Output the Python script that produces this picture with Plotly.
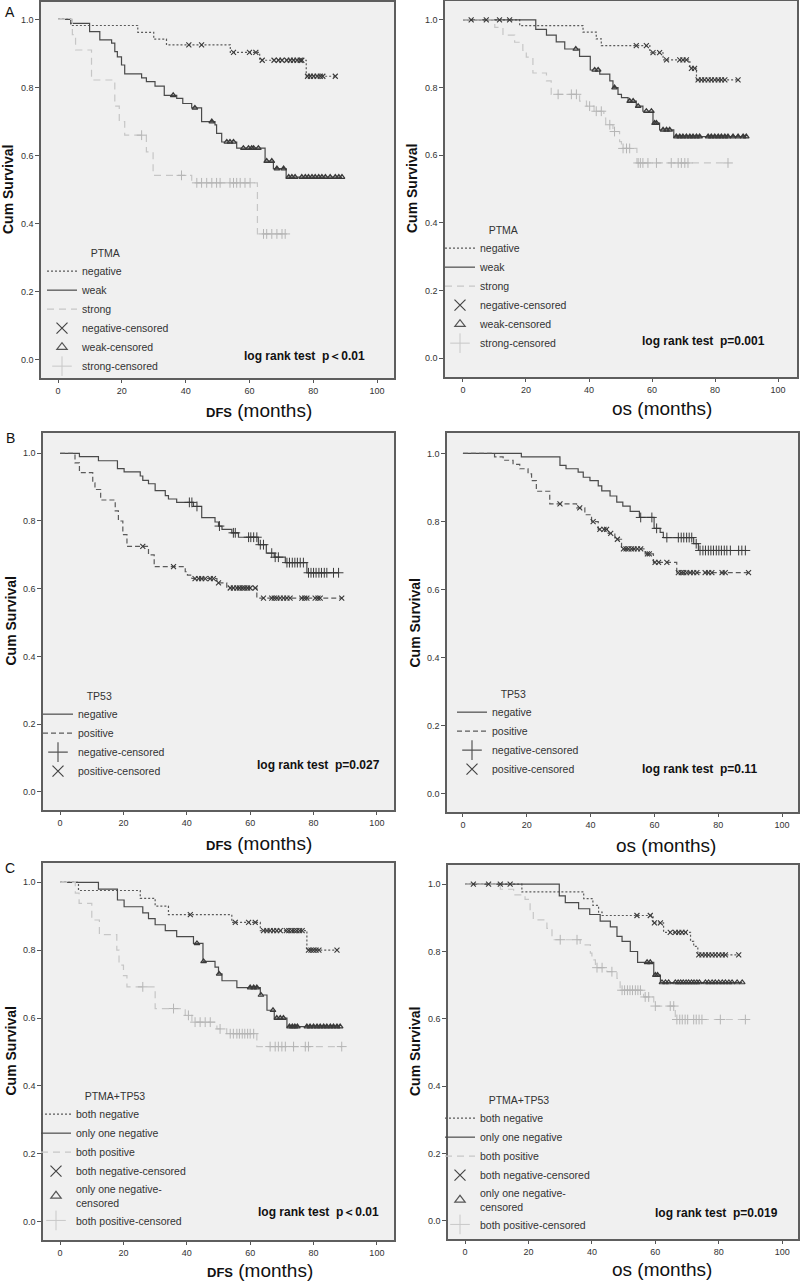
import plotly.graph_objects as go

FONT = "Liberation Sans, Arial, Helvetica, sans-serif"

# ---------------- data (months, cumulative survival) ----------------
# Panel A - PTMA, DFS
A_dfs_neg_t = [4.0, 25.0, 30.0, 34.0, 54.0, 63.2, 77.8]
A_dfs_neg_s = [0.982, 0.962, 0.942, 0.925, 0.903, 0.88, 0.833]
A_dfs_neg_c = [(0.925, [41, 45]), (0.903, [55, 60, 62]),
               (0.88, [64, 67.7, 69.1, 70.2, 71.7, 72.8, 73.8, 74.9, 75.9, 76.4]),
               (0.833, [78.2, 79.1, 80.1, 81.2, 82.2, 83.0, 86.9])]
A_dfs_weak_t = [4.0, 9.9, 13.1, 16.8, 17.8, 18.6, 19.9, 20.9, 26.2, 27.7, 30.4, 33.3, 37.2,
                39.1, 41.9, 45.0, 49.2, 49.7, 51.3, 56.0, 64.9, 67.5, 71.5]
A_dfs_weak_s = [0.988, 0.964, 0.94, 0.93, 0.905, 0.89, 0.866, 0.84, 0.828, 0.817, 0.804, 0.777,
                0.768, 0.753, 0.74, 0.70, 0.69, 0.665, 0.64, 0.622, 0.584, 0.562, 0.537]
A_dfs_weak_c = [(0.777, [36.1]), (0.74, [42.9]), (0.70, [48.2]), (0.64, [52.9, 53.9, 55.0]),
                (0.622, [58.1, 59.7, 60.7, 61.3, 62.8]), (0.584, [65.4, 67.0]), (0.562, [68.6, 70.7]),
                (0.537, [72.3, 73.3, 74.3, 76.4, 77.5, 78.5, 79.6, 80.6, 81.7, 82.7, 83.8, 85.3,
                         86.9, 88.0, 89.0])]
A_dfs_str_t = [4.5, 5.5, 10.5, 17.8, 19.2, 20.9, 27.7, 29.8, 41.9, 62.5]
A_dfs_str_s = [0.955, 0.91, 0.822, 0.745, 0.70, 0.66, 0.611, 0.542, 0.52, 0.37]
A_dfs_str_c = [(0.66, [26.2]), (0.542, [38.7]),
               (0.52, [43.5, 45.0, 46.6, 48.2, 49.7, 50.8, 53.9, 55.0, 56.0, 57.1, 58.6, 60.2]),
               (0.37, [64.4, 65.4, 67.0, 68.6, 70.2, 71.2])]

# Panel A - PTMA, OS
A_os_neg_t = [18.0, 38.1, 42.3, 43.9, 59.3, 63.5, 72.0, 74.1]
A_os_neg_s = [0.983, 0.964, 0.944, 0.924, 0.903, 0.882, 0.857, 0.823]
A_os_neg_c = [(1.0, [2.6, 7.4, 11.6, 14.8]), (0.924, [55.0, 58.2]), (0.903, [60.3, 62.4]),
              (0.882, [64.6, 68.8, 69.8, 70.9]), (0.857, [72.5, 73.5]),
              (0.823, [74.6, 75.7, 76.7, 77.8, 78.8, 79.9, 81.0, 82.0, 83.1, 87.3])]
A_os_weak_t = [23.1, 26.5, 29.6, 32.3, 37.0, 40.4, 43.4, 46.6, 47.6, 49.2, 50.3, 52.4, 55.0,
               57.1, 60.3, 62.4, 66.9]
A_os_weak_s = [0.972, 0.955, 0.935, 0.914, 0.892, 0.852, 0.84, 0.82, 0.80, 0.78, 0.77, 0.76,
               0.745, 0.73, 0.695, 0.675, 0.655]
A_os_weak_c = [(0.914, [35.8]), (0.852, [41.8, 42.9]), (0.80, [48.1]), (0.76, [52.9, 54.0]),
               (0.745, [55.6]), (0.73, [58.2, 59.8]), (0.695, [60.8, 61.4]),
               (0.675, [63.5, 64.6, 65.6]),
               (0.655, [67.7, 68.8, 69.8, 70.9, 72.0, 73.0, 74.1, 75.1, 77.8, 78.8, 79.9, 81.0,
                        82.0, 83.1, 84.1, 85.7, 87.3, 88.9, 89.9])]
A_os_str_t = [10.1, 12.7, 16.4, 19.0, 20.1, 22.2, 26.5, 28.0, 37.0, 39.2, 41.6, 44.7, 45.3,
              47.6, 49.7, 50.3, 55.2]
A_os_str_s = [0.978, 0.955, 0.934, 0.91, 0.89, 0.843, 0.82, 0.78, 0.76, 0.745, 0.73, 0.71,
              0.69, 0.67, 0.64, 0.62, 0.577]
A_os_str_c = [(0.78, [30.2, 34.4, 36.0]), (0.745, [40.2]), (0.73, [42.3, 43.9]), (0.69, [46.6]),
              (0.67, [48.1]), (0.62, [50.8, 51.9, 52.9]),
              (0.577, [55.6, 56.3, 57.1, 58.7, 61.4, 66.1, 68.3, 69.3, 70.4, 71.4, 84.1])]

# Panel B - TP53, DFS
B_dfs_neg_t = [6.1, 12.1, 18.1, 20.2, 25.3, 26.1, 27.9, 30.0, 33.2, 34.2, 36.8, 42.1, 44.7,
               48.9, 50.0, 51.1, 54.2, 56.3, 62.6, 65.1, 67.6, 71.1, 77.9]
B_dfs_neg_s = [0.99, 0.978, 0.955, 0.945, 0.933, 0.92, 0.91, 0.89, 0.875, 0.865, 0.855, 0.843,
               0.81, 0.797, 0.785, 0.775, 0.765, 0.752, 0.73, 0.705, 0.693, 0.677, 0.647]
B_dfs_neg_c = [(0.855, [40.8, 41.6]), (0.843, [43.2]), (0.785, [50.3]), (0.765, [54.7, 55.3]),
               (0.752, [59.5, 60.2, 61.1, 62.1]), (0.73, [63.2, 64.2]), (0.705, [66.8]),
               (0.693, [67.9, 68.9]), (0.677, [71.6, 72.4, 73.3, 74.1, 74.9, 75.8, 76.8]),
               (0.647, [78.4, 79.2, 80.0, 80.8, 81.7, 82.5, 83.4, 84.2, 86.3, 87.9])]
B_dfs_pos_t = [4.7, 6.1, 10.3, 11.0, 12.8, 17.4, 18.4, 19.8, 21.1, 27.9, 29.7, 39.5, 40.2,
               41.6, 49.5, 52.6, 62.1]
B_dfs_pos_s = [0.972, 0.943, 0.913, 0.893, 0.862, 0.83, 0.80, 0.76, 0.725, 0.70, 0.665, 0.65,
               0.64, 0.63, 0.617, 0.602, 0.572]
B_dfs_pos_c = [(0.725, [26.1]), (0.665, [35.8]), (0.63, [42.6, 43.7, 44.7, 45.8, 47.4, 48.4]),
               (0.617, [50.0]),
               (0.602, [53.7, 54.7, 55.8, 56.6, 57.5, 58.3, 59.2, 60.0, 61.6]),
               (0.572, [64.2, 66.8, 67.6, 68.4, 69.5, 70.5, 71.6, 72.6, 76.3, 77.2, 77.9, 80.5,
                        81.4, 82.1, 88.9])]

# Panel B - TP53, OS
B_os_neg_t = [18.3, 30.4, 32.3, 36.1, 37.7, 39.8, 42.4, 43.5, 46.1, 48.2, 50.1, 52.4, 55.3,
              59.9, 61.8, 62.8, 72.3, 73.8]
B_os_neg_s = [0.99, 0.965, 0.955, 0.945, 0.93, 0.92, 0.905, 0.89, 0.875, 0.857, 0.845, 0.83,
              0.812, 0.78, 0.768, 0.753, 0.735, 0.715]
B_os_neg_c = [(0.812, [55.7, 59.2]), (0.78, [60.7]),
              (0.753, [63.9, 67.5, 68.4, 69.2, 70.1, 70.9, 71.7]), (0.735, [73.1]),
              (0.715, [74.3, 75.2, 76.0, 76.9, 77.7, 78.5, 79.4, 80.2, 81.0, 81.9, 82.7, 83.8,
                       86.4, 87.4, 88.5])]
B_os_pos_t = [9.9, 12.6, 15.7, 17.8, 20.4, 21.5, 23.0, 27.2, 35.6, 38.2, 40.3, 42.4, 45.5,
              47.6, 49.7, 57.1, 59.7, 67.0]
B_os_pos_s = [0.99, 0.98, 0.968, 0.955, 0.94, 0.92, 0.889, 0.852, 0.84, 0.82, 0.80, 0.777,
              0.765, 0.748, 0.72, 0.705, 0.68, 0.65]
B_os_pos_c = [(0.852, [30.4]), (0.84, [36.6]), (0.80, [40.8]), (0.777, [42.9, 44.2, 45.0]),
              (0.765, [46.3]), (0.748, [48.4]),
              (0.72, [50.3, 51.1, 51.9, 52.8, 53.6, 54.7, 55.7]), (0.705, [57.8, 58.4]),
              (0.68, [60.2, 61.3, 63.9]),
              (0.65, [67.5, 68.4, 69.2, 70.1, 71.2, 72.3, 73.3, 75.9, 77.0, 78.0, 81.2, 82.2,
                      89.5])]

# Panel C - PTMA+TP53, DFS
C_dfs_bneg_t = [5.8, 25.3, 30.0, 34.2, 54.2, 63.2, 77.9]
C_dfs_bneg_s = [0.976, 0.953, 0.93, 0.905, 0.882, 0.858, 0.80]
C_dfs_bneg_c = [(0.905, [41.1]), (0.882, [55.3, 59.5, 61.6]),
                (0.858, [64.2, 65.3, 66.3, 67.4, 68.4, 69.5, 71.4, 72.2, 73.1, 73.9, 74.7,
                         75.6, 76.4]),
                (0.80, [78.4, 79.2, 80.0, 80.8, 81.7, 87.4])]
C_dfs_one_t = [12.1, 18.1, 20.2, 26.1, 27.9, 30.0, 33.2, 36.8, 42.1, 45.1, 48.9, 50.0, 51.1,
               55.8, 63.2, 65.3, 67.6, 71.6]
C_dfs_one_s = [0.98, 0.948, 0.928, 0.91, 0.893, 0.875, 0.858, 0.84, 0.82, 0.767, 0.75, 0.73,
               0.71, 0.69, 0.668, 0.623, 0.60, 0.575]
C_dfs_one_c = [(0.82, [43.2]), (0.767, [45.3]), (0.73, [50.2]), (0.69, [60.0, 61.1, 62.1]),
               (0.668, [63.4]), (0.623, [67.2]), (0.60, [68.4, 69.5, 70.5]),
               (0.575, [72.4, 73.3, 74.1, 74.9, 77.9, 78.9, 80.0, 81.1, 82.1, 83.2, 84.2, 85.3,
                        86.3, 87.4, 88.4])]
C_dfs_bpos_t = [4.8, 6.0, 10.0, 12.4, 17.9, 18.6, 20.0, 21.1, 30.0, 39.5, 41.6, 49.5, 52.6, 62.1]
C_dfs_bpos_s = [0.968, 0.938, 0.889, 0.846, 0.80, 0.756, 0.725, 0.692, 0.628, 0.608, 0.588,
                0.568, 0.554, 0.516]
C_dfs_bpos_c = [(0.692, [26.1]), (0.628, [35.8]), (0.608, [40.5]),
                (0.588, [42.6, 44.2, 45.8, 47.4]), (0.568, [50.5]),
                (0.554, [53.7, 54.7, 55.8, 56.6, 57.5, 58.3, 59.2, 60.0, 61.1]),
                (0.516, [66.3, 67.9, 68.9, 70.0, 71.1, 73.7, 77.4, 78.4, 88.9])]

# Panel C - PTMA+TP53, OS
C_os_bneg_t = [17.9, 37.4, 40.3, 42.1, 43.2, 59.3, 62.6, 71.1, 72.1, 73.4]
C_os_bneg_s = [0.977, 0.957, 0.937, 0.917, 0.907, 0.885, 0.857, 0.83, 0.815, 0.79]
C_os_bneg_c = [(1.0, [2.6, 7.4, 11.1, 14.2]), (0.907, [54.2, 58.4]), (0.885, [59.7, 61.6]),
               (0.857, [64.7, 66.3, 67.4, 68.4, 69.5]),
               (0.79, [73.7, 74.7, 75.8, 76.8, 77.9, 78.9, 80.0, 81.1, 82.1, 86.3])]
C_os_one_t = [29.7, 31.6, 35.8, 39.3, 42.6, 45.8, 47.9, 49.5, 52.1, 54.4, 59.5, 61.6]
C_os_one_s = [0.965, 0.945, 0.927, 0.91, 0.89, 0.873, 0.845, 0.83, 0.80, 0.768, 0.73, 0.708]
C_os_one_c = [(0.768, [57.4, 58.4]), (0.73, [60.0, 60.7]),
              (0.708, [62.1, 63.2, 64.2, 66.3, 67.2, 68.0, 68.8, 69.7, 70.5, 71.4, 72.2, 73.1,
                       73.9, 75.8, 76.8, 77.9, 78.9, 80.0, 81.1, 82.1, 83.2, 84.2, 85.8, 87.4])]
C_os_bpos_t = [11.1, 15.3, 18.9, 20.5, 21.5, 25.8, 27.4, 36.3, 39.5, 40.0, 41.1, 44.7, 47.9,
               48.9, 56.3, 59.5, 66.3]
C_os_bpos_s = [0.985, 0.968, 0.955, 0.92, 0.894, 0.869, 0.835, 0.82, 0.795, 0.775, 0.752, 0.74,
               0.72, 0.685, 0.665, 0.638, 0.598]
C_os_bpos_c = [(0.835, [30.0, 35.3]), (0.752, [41.6, 43.2]), (0.74, [46.3]),
               (0.685, [49.5, 50.3, 51.2, 52.0, 52.8, 53.7, 54.5, 55.3]), (0.665, [56.8, 57.9]),
               (0.638, [60.0, 64.7, 65.8]),
               (0.598, [66.8, 67.7, 68.5, 69.4, 70.2, 72.1, 72.9, 73.8, 74.7, 80.5, 88.4])]

# labels
X_TICKS = [0, 20, 40, 60, 80, 100]
Y_TICKS = [0.0, 0.2, 0.4, 0.6, 0.8, 1.0]
PTMA_NAMES = ["negative", "weak", "strong"]
TP53_NAMES = ["negative", "positive"]
COMB_NAMES = ["both negative", "only one negative", "both positive"]
COMB_CENS = ["both negative-censored", "only one negative-<br>censored", "both positive-censored"]
P_TEXTS = ["log rank test\u00a0 p\uff1c0.01", "log rank test\u00a0 p=0.001",
           "log rank test\u00a0 p=0.027", "log rank test\u00a0 p=0.11",
           "log rank test\u00a0 p\uff1c0.01", "log rank test\u00a0 p=0.019"]

# ---------------- styles ----------------
DARK = "#4a4a4a"
DOTC = "#5a5a5a"
LIGHT = "#c6c6c6"


def mk(symbol, size, color, width):
    return dict(symbol=symbol, size=size, color=color, line=dict(color=color, width=width))


ST_NEG = dict(line=dict(color=DOTC, width=1.2, dash="2px,2px"),
              marker=mk("x-thin", 5, "#3a3a3a", 1.1), legmarker=mk("x-thin", 11, "#444", 1.2))
ST_WEAK = dict(line=dict(color=DARK, width=1.2),
               marker=mk("triangle-up-open", 5, "#3a3a3a", 1.2),
               legmarker=mk("triangle-up-open", 9, "#555", 1.2))
ST_STR = dict(line=dict(color=LIGHT, width=1.2, dash="7px,5px"),
              marker=mk("cross-thin", 7, "#b5b5b5", 1), legmarker=mk("cross-thin", 14, "#c8c8c8", 1))
ST_TNEG = dict(line=dict(color=DARK, width=1.2),
               marker=mk("cross-thin", 7, "#3a3a3a", 1), legmarker=mk("cross-thin", 14, "#555", 1.2))
ST_TPOS = dict(line=dict(color=DOTC, width=1.2, dash="5px,3px"),
               marker=mk("x-thin", 5, "#3a3a3a", 1.1), legmarker=mk("x-thin", 11, "#444", 1.2))


def expand(groups):
    xs, ys = [], []
    for lvl, ts in groups:
        for t in ts:
            xs.append(t)
            ys.append(lvl)
    return xs, ys


panels = [
    dict(curves=[(A_dfs_neg_t, A_dfs_neg_s, A_dfs_neg_c, ST_NEG),
                 (A_dfs_weak_t, A_dfs_weak_s, A_dfs_weak_c, ST_WEAK),
                 (A_dfs_str_t, A_dfs_str_s, A_dfs_str_c, ST_STR)],
         names=PTMA_NAMES, cens=[n + "-censored" for n in PTMA_NAMES], title="PTMA", xt="DFS",
         box=(41, 394, 2, 378), xr=(-5.33, 105.3), yr=(-0.053, 1.051),
         leg=(42, 243), ptxt=(96.9, 0.012), xtitle=(259, 411)),
    dict(curves=[(A_os_neg_t, A_os_neg_s, A_os_neg_c, ST_NEG),
                 (A_os_weak_t, A_os_weak_s, A_os_weak_c, ST_WEAK),
                 (A_os_str_t, A_os_str_s, A_os_str_c, ST_STR)],
         names=PTMA_NAMES, cens=[n + "-censored" for n in PTMA_NAMES], title="PTMA", xt="os",
         box=(445, 797, 1, 377), xr=(-5.7, 106.0), yr=(-0.056, 1.056),
         leg=(440, 220), ptxt=(96.5, 0.05), xtitle=(662, 408)),
    dict(curves=[(B_dfs_neg_t, B_dfs_neg_s, B_dfs_neg_c, ST_TNEG),
                 (B_dfs_pos_t, B_dfs_pos_s, B_dfs_pos_c, ST_TPOS)],
         names=TP53_NAMES, cens=[n + "-censored" for n in TP53_NAMES], title="TP53", xt="DFS",
         box=(43, 394, 433, 810), xr=(-5.4, 105.4), yr=(-0.054, 1.06),
         leg=(38, 686), ptxt=(101.6, 0.08), xtitle=(259, 843)),
    dict(curves=[(B_os_neg_t, B_os_neg_s, B_os_neg_c, ST_TNEG),
                 (B_os_pos_t, B_os_pos_s, B_os_pos_c, ST_TPOS)],
         names=TP53_NAMES, cens=[n + "-censored" for n in TP53_NAMES], title="TP53", xt="os",
         box=(447, 798, 433, 812), xr=(-5.0, 105.0), yr=(-0.053, 1.06),
         leg=(452, 684), ptxt=(92.8, 0.073), xtitle=(666, 845)),
    dict(curves=[(C_dfs_bneg_t, C_dfs_bneg_s, C_dfs_bneg_c, ST_NEG),
                 (C_dfs_one_t, C_dfs_one_s, C_dfs_one_c, ST_WEAK),
                 (C_dfs_bpos_t, C_dfs_bpos_s, C_dfs_bpos_c, ST_STR)],
         names=COMB_NAMES, cens=COMB_CENS, title="PTMA+TP53", xt="DFS",
         box=(43, 394, 863, 1240), xr=(-5.4, 105.4), yr=(-0.054, 1.057),
         leg=(36, 1086), ptxt=(101.3, 0.03), xtitle=(260, 1270)),
    dict(curves=[(C_os_bneg_t, C_os_bneg_s, C_os_bneg_c, ST_NEG),
                 (C_os_one_t, C_os_one_s, C_os_one_c, ST_WEAK),
                 (C_os_bpos_t, C_os_bpos_s, C_os_bpos_c, ST_STR)],
         names=COMB_NAMES, cens=COMB_CENS, title="PTMA+TP53", xt="os",
         box=(448, 798, 865, 1239), xr=(-5.4, 105.0), yr=(-0.054, 1.057),
         leg=(440, 1090), ptxt=(99.4, 0.024), xtitle=(662, 1269)),
]

W, H = 800, 1283
fig = go.Figure()
layout = dict(width=W, height=H, margin=dict(l=0, r=0, t=0, b=0),
              paper_bgcolor="white", plot_bgcolor="#f0f0f0",
              font=dict(family=FONT, color="#222222"), showlegend=True)
annotations = []

for i, p in enumerate(panels, start=1):
    xa = "x" if i == 1 else f"x{i}"
    ya = "y" if i == 1 else f"y{i}"
    lg = "legend" if i == 1 else f"legend{i}"
    x0, x1, y0, y1 = p["box"]
    axis_common = dict(showline=True, mirror=True, linecolor="#5e5e5e", linewidth=1.5,
                       showgrid=False, zeroline=False, ticks="outside", tickcolor="#555",
                       tickfont=dict(size=9, color="#333", family=FONT))
    layout["xaxis" if i == 1 else f"xaxis{i}"] = dict(
        domain=[x0 / W, x1 / W], range=list(p["xr"]), anchor=ya,
        tickvals=X_TICKS, ticklen=3, **axis_common)
    layout["yaxis" if i == 1 else f"yaxis{i}"] = dict(
        domain=[1 - y1 / H, 1 - y0 / H], range=list(p["yr"]), anchor=xa,
        tickvals=Y_TICKS, tickformat=".1f", ticklen=4, **axis_common)

    # step lines (with legend entries)
    for (t, s, c, st), nm in zip(p["curves"], p["names"]):
        cx, _ = expand(c)
        end = max(cx) if cx else t[-1]
        fig.add_trace(go.Scatter(x=[0] + t + [max(end, t[-1])], y=[1.0] + s + [s[-1]],
                                 mode="lines", line_shape="hv", line=st["line"], name=nm,
                                 xaxis=xa, yaxis=ya, legend=lg, hoverinfo="skip"))
    # censor marks on the curves
    for (t, s, c, st), nm in zip(p["curves"], p["cens"]):
        cx, cy = expand(c)
        fig.add_trace(go.Scatter(x=cx, y=cy, mode="markers", marker=st["marker"], name=nm,
                                 xaxis=xa, yaxis=ya, showlegend=False, hoverinfo="skip"))
    # legend entries for censor symbols (larger glyphs, no data)
    for (t, s, c, st), nm in zip(p["curves"], p["cens"]):
        fig.add_trace(go.Scatter(x=[None], y=[None], mode="markers", marker=st["legmarker"],
                                 name=nm, xaxis=xa, yaxis=ya, legend=lg, hoverinfo="skip"))

    lx, ly = p["leg"]
    layout[lg] = dict(x=lx / W, y=1 - ly / H, xanchor="left", yanchor="top",
                      bgcolor="rgba(0,0,0,0)", borderwidth=0, itemsizing="trace",
                      traceorder="normal", tracegroupgap=0, itemwidth=30,
                      font=dict(size=10.5, family=FONT, color="#333"),
                      title=dict(text="\u00a0" * 16 + p["title"],
                                 font=dict(size=10.5, family=FONT, color="#333")))

    annotations.append(dict(x=p["ptxt"][0], y=p["ptxt"][1], xref=xa, yref=ya,
                            text="<b>" + P_TEXTS[i - 1] + "</b>", showarrow=False,
                            xanchor="right", yanchor="middle",
                            font=dict(size=12, family=FONT, color="#111")))
    yc = (y0 + y1) / 2
    annotations.append(dict(x=(x0 - 33) / W, y=1 - yc / H, xref="paper", yref="paper",
                            text="<b>Cum Survival</b>", textangle=-90, showarrow=False,
                            xanchor="center", yanchor="middle",
                            font=dict(size=14, family=FONT, color="#111")))
    if p["xt"] == "DFS":
        xt = "<b><span style='font-size:13px'>DFS</span></b> (months)"
    else:
        xt = "os (months)"
    annotations.append(dict(x=p["xtitle"][0] / W, y=1 - p["xtitle"][1] / H, xref="paper",
                            yref="paper", text=xt, showarrow=False, xanchor="center",
                            yanchor="middle", font=dict(size=19, family=FONT, color="#111")))

for letter, (px, py) in zip(["A", "B", "C"], [(10, 12), (10, 438), (10, 868)]):
    annotations.append(dict(x=px / W, y=1 - py / H, xref="paper", yref="paper", text=letter,
                            showarrow=False, xanchor="center", yanchor="middle",
                            font=dict(size=14, family=FONT, color="#111")))

layout["annotations"] = annotations
fig.update_layout(**layout)
fig.write_html("out.html", config={"displayModeBar": False},
               post_script="document.body.style.margin='0';document.body.style.padding='0';"
                           "document.body.style.overflow='hidden';")
